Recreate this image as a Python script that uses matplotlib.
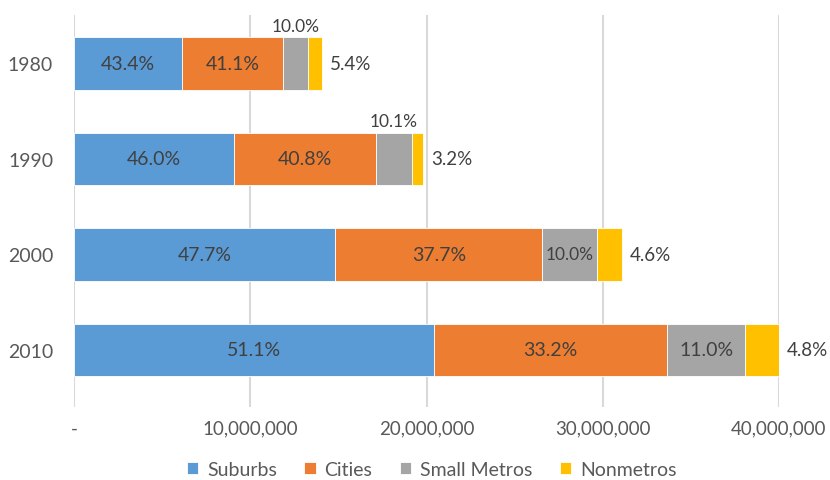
import numpy as np
import matplotlib
matplotlib.use("Agg")
import matplotlib.pyplot as plt
from matplotlib.ticker import FuncFormatter

plt.rcParams['font.family'] = ['Lato', 'DejaVu Sans']

# population totals per decade and the share of each area type (%)
years = ['1980', '1990', '2000', '2010']
totals = [14_060_000, 19_770_000, 31_100_000, 39_940_000]
series = ['Suburbs', 'Cities', 'Small Metros', 'Nonmetros']
suburbs = [43.4, 46.0, 47.7, 51.1]
cities = [41.1, 40.8, 37.7, 33.2]
small_metros = [10.0, 10.1, 10.0, 11.0]
nonmetros = [5.4, 3.2, 4.6, 4.8]

colors = ['#5B9BD5', '#ED7D31', '#A5A5A5', '#FFC000']
text_col = '#404040'
axis_col = '#595959'

shares = np.array([suburbs, cities, small_metros, nonmetros])
values = shares / 100.0 * np.array(totals)

fig = plt.figure(figsize=(8.3, 4.81), dpi=100)
ax = fig.add_axes([74 / 830, 1 - 408 / 481, (779 - 74) / 830, (408 - 16) / 481])

y = np.arange(len(years))
left = np.zeros(len(years))
for i, name in enumerate(series):
    ax.barh(y, values[i], left=left, height=0.55, color=colors[i],
            edgecolor='white', linewidth=0.6, label=name, zorder=3)
    for j in range(len(years)):
        seg = values[i][j]
        label = f'{shares[i][j]:.1f}%'
        if i == 3:
            # nonmetro share sits just past the end of the bar
            ax.text(left[j] + seg + 0.45e6, y[j], label, ha='left', va='center',
                    fontsize=13.5, color=text_col, zorder=4)
        elif seg < 2.5e6:
            ax.text(left[j] + seg / 2, y[j] - 0.31, label, ha='center', va='bottom',
                    fontsize=12.5, color=text_col, zorder=4)
        else:
            fs = 12.5 if seg < 3.5e6 else 14
            ax.text(left[j] + seg / 2, y[j], label, ha='center', va='center',
                    fontsize=fs, color=text_col, zorder=4)
    left += values[i]

ax.set_xlim(0, 40_000_000)
ax.set_ylim(3.6, -0.508)
ax.set_xticks([0, 10_000_000, 20_000_000, 30_000_000, 40_000_000])
ax.xaxis.set_major_formatter(FuncFormatter(lambda v, p: '-' if v == 0 else f'{v:,.0f}'))
ax.set_yticks(y)
ax.set_yticklabels(years)
ax.grid(axis='x', color='#D9D9D9', linewidth=1.5, zorder=0)
ax.tick_params(axis='both', length=0, labelsize=14, labelcolor=axis_col)
ax.tick_params(axis='x', pad=9, labelsize=13.5)
ax.tick_params(axis='y', pad=15)
for s in ax.spines.values():
    s.set_visible(False)

fig.legend(loc='center', bbox_to_anchor=(0.52, 0.022), ncol=4, frameon=False,
           fontsize=14, labelcolor=axis_col, handlelength=0.6, handleheight=0.6,
           handletextpad=0.45, columnspacing=1.4)

fig.savefig('out.png', dpi=100)
